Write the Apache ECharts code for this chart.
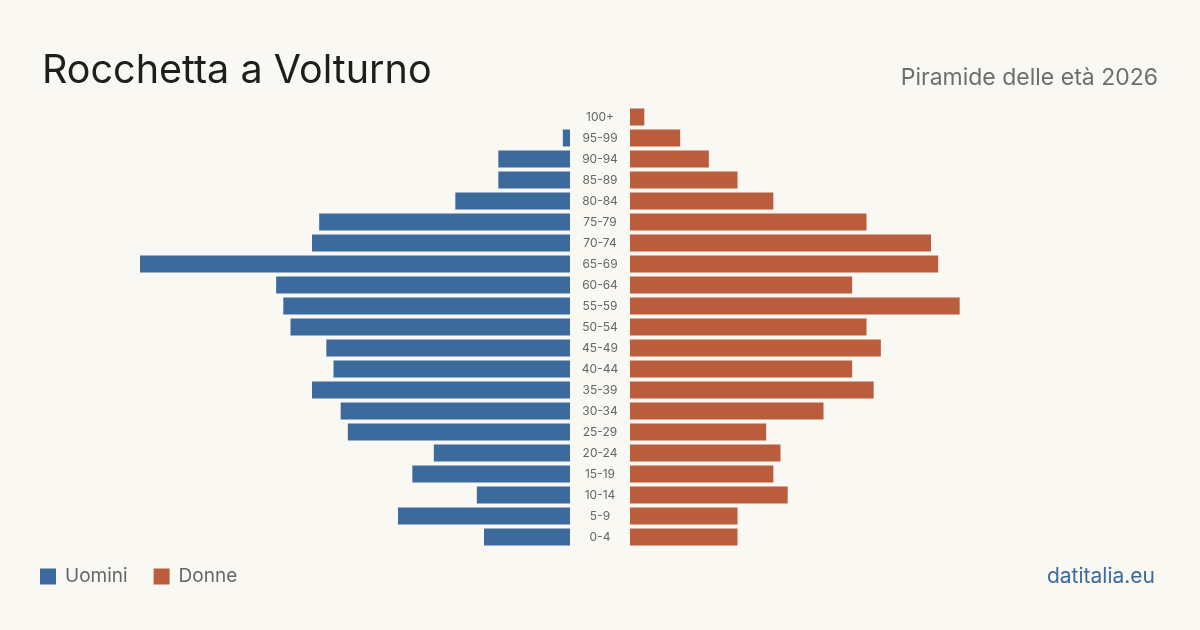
<!DOCTYPE html>
<html>
<head>
<meta charset="utf-8">
<script src="https://cdn.jsdelivr.net/npm/echarts@6/dist/echarts.min.js"></script>
<style>
  html, body { margin: 0; padding: 0; background: #f9f8f3; }
  #chart { width: 1200px; height: 630px; }
</style>
</head>
<body>
<div id="chart"></div>
<script>
  // fasce d'età, dal basso verso l'alto
  const ageGroups = ['0-4', '5-9', '10-14', '15-19', '20-24', '25-29', '30-34', '35-39', '40-44', '45-49',
    '50-54', '55-59', '60-64', '65-69', '70-74', '75-79', '80-84', '85-89', '90-94', '95-99', '100+'];
  const men = [12, 24, 13, 22, 19, 31, 32, 36, 33, 34, 39, 40, 41, 60, 36, 35, 16, 10, 10, 1, 0];
  const women = [15, 15, 22, 20, 21, 19, 27, 34, 31, 35, 33, 46, 31, 43, 42, 33, 20, 15, 11, 7, 2];
  const axisMax = 60;

  const blue = '#3d6a9c';
  const red = '#b95d3c';
  const font = 'Inter, "Noto Sans", sans-serif';

  const chart = echarts.init(document.getElementById('chart'));
  chart.setOption({
    backgroundColor: '#f9f8f3',
    animation: false,
    title: [{
      text: 'Rocchetta a Volturno',
      left: 37, top: 46,
      textStyle: { fontFamily: font, fontSize: 39.5, fontWeight: 'normal', color: '#1e1e1e' }
    }, {
      text: 'Piramide delle età 2026',
      right: 37, top: 62,
      textStyle: { fontFamily: font, fontSize: 23, fontWeight: 'normal', color: '#6e6e6e' }
    }, {
      text: 'datitalia.eu',
      right: 40, top: 561,
      textStyle: { fontFamily: font, fontSize: 21, fontWeight: 'normal', color: blue }
    }],
    legend: {
      left: 35, top: 562,
      icon: 'rect',
      itemWidth: 16, itemHeight: 16, itemGap: 26,
      textStyle: { fontFamily: font, fontSize: 19, color: '#666', padding: [0, 0, 0, 4] },
      data: ['Uomini', 'Donne']
    },
    grid: [
      { left: 140, width: 430, top: 106.5, height: 441 },
      { left: 630, width: 430, top: 106.5, height: 441 }
    ],
    xAxis: [
      { gridIndex: 0, type: 'value', max: axisMax, inverse: true, show: false },
      { gridIndex: 1, type: 'value', max: axisMax, show: false }
    ],
    yAxis: [{
      gridIndex: 0, type: 'category', data: ageGroups, position: 'right',
      axisLine: { show: false }, axisTick: { show: false },
      axisLabel: { margin: 30, align: 'center', fontFamily: font, fontSize: 12, color: '#666' }
    }, {
      gridIndex: 1, type: 'category', data: ageGroups,
      axisLine: { show: false }, axisTick: { show: false }, axisLabel: { show: false }
    }],
    series: [{
      name: 'Uomini', type: 'bar', xAxisIndex: 0, yAxisIndex: 0,
      data: men, barWidth: 17, itemStyle: { color: blue }
    }, {
      name: 'Donne', type: 'bar', xAxisIndex: 1, yAxisIndex: 1,
      data: women, barWidth: 17, itemStyle: { color: red }
    }]
  });
</script>
</body>
</html>
